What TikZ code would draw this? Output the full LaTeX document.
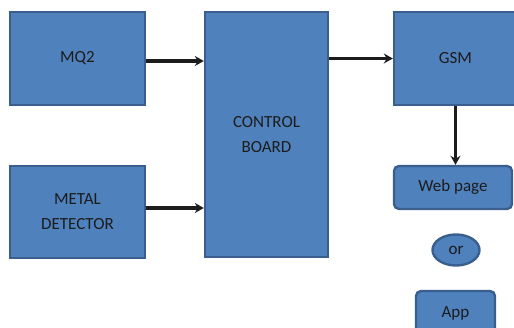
\documentclass[tikz,border=0pt]{standalone}
\usepackage{fontspec}
\setmainfont{Carlito}
\usetikzlibrary{arrows.meta,shapes.geometric}
\definecolor{boxfill}{HTML}{4F81BD}
\definecolor{boxline}{HTML}{3A5F8F}
\definecolor{ink}{HTML}{1C1C1C}
\tikzset{
  block/.style={draw=boxline, line width=2.4pt, fill=boxfill, text=ink,
    font=\fontsize{17}{25}\selectfont, align=center, inner sep=0pt},
  softblock/.style={block, rounded corners=5pt},
  bubble/.style={block, ellipse},
  link/.style={draw=ink, line width=3.2pt, -{Stealth[length=9pt,width=10pt,inset=3pt]}}
}
\begin{document}
\begin{tikzpicture}[x=1pt,y=-1pt]
  \useasboundingbox (0,0) rectangle (514,328);
  \clip (0,0) rectangle (514,328);
  % input sensors
  \node[block, minimum width=135pt, minimum height=93pt] (mq2) at (77.5,58.5) {MQ2};
  \node[block, minimum width=135pt, minimum height=92pt] (metal) at (77.5,212) {METAL\\DETECTOR};
  % central controller
  \node[block, minimum width=123pt, minimum height=245pt] (cb) at (266.5,134.5) {CONTROL\\BOARD};
  % communication and outputs
  \node[block, minimum width=123pt, minimum height=93pt] (gsm) at (455.5,58.5) {GSM};
  \node[softblock, minimum width=118pt, minimum height=43pt] (web) at (453,187.5) {Web page};
  \node[bubble, minimum width=47pt, minimum height=31pt] (or) at (456,250) {or};
  \node[softblock, minimum width=79pt, minimum height=44pt] (app) at (455.5,313) {App};
  % signal flow
  \draw[link] ([yshift=-2.5pt]mq2.east) -- ([yshift=-2.5pt]mq2.east -| cb.west);
  \draw[link] ([yshift=4pt]metal.east) -- ([yshift=4pt]metal.east -| cb.west);
  \draw[link] (cb.east |- gsm.east) -- (gsm.west);
  \draw[link] (gsm.south) -- (gsm.south |- web.north);
\end{tikzpicture}
\end{document}
